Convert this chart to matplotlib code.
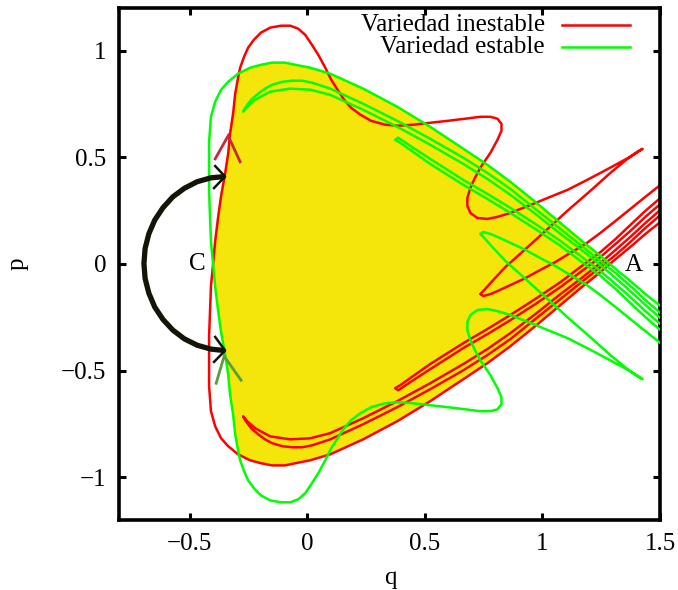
import matplotlib
matplotlib.use("Agg")
import matplotlib.pyplot as plt

# ---------------- data ----------------
x_ticks = [-0.5, 0, 0.5, 1, 1.5]
x_tick_labels = ["\u22120.5", "0", "0.5", "1", "1.5"]
y_ticks = [-1, -0.5, 0, 0.5, 1]
y_tick_labels = ["\u22121", "\u22120.5", "0", "0.5", "1"]
series_names = ["Variedad inestable", "Variedad estable"]
point_labels = ["C", "A"]
point_q = [-0.465, 1.387]
point_p = [0.0, -0.005]

# unstable manifold (red): outer band, left side, top part
red_band_q = [1.502, 1.438, 1.374, 1.311, 1.247, 1.162, 1.077, 0.970, 0.864, 0.766, 0.664, 0.523, 0.383, 0.238, 0.098, 0.013, -0.051, -0.094, -0.149, -0.196, -0.243, -0.294]
red_band_p = [0.197, 0.141, 0.080, 0.023, -0.038, -0.113, -0.192, -0.291, -0.385, -0.465, -0.540, -0.643, -0.737, -0.822, -0.892, -0.920, -0.934, -0.944, -0.944, -0.934, -0.920, -0.892]
red_side_q = [-0.336, -0.366, -0.391, -0.409, -0.417, -0.417, -0.417, -0.413, -0.409, -0.400, -0.391, -0.379, -0.366, -0.349, -0.336, -0.328, -0.315, -0.306, -0.294]
red_side_p = [-0.854, -0.817, -0.761, -0.690, -0.573, -0.455, -0.338, -0.221, -0.103, 0.000, 0.108, 0.216, 0.319, 0.423, 0.516, 0.610, 0.704, 0.798, 0.873]
red_top_q = [-0.285, -0.268, -0.251, -0.226, -0.196, -0.157, -0.111, -0.072, -0.038, -0.009, 0.017, 0.047, 0.077, 0.102, 0.132, 0.157, 0.187, 0.226, 0.272, 0.332, 0.387, 0.451, 0.523, 0.596, 0.672, 0.736, 0.779, 0.809, 0.826, 0.826, 0.809, 0.779, 0.736, 0.711, 0.694, 0.681, 0.681, 0.694, 0.723, 0.766, 0.809, 0.864, 0.906, 0.962, 1.034, 1.106, 1.174, 1.247, 1.311, 1.366, 1.404, 1.426, 1.400, 1.362, 1.289, 1.204, 1.106, 1.013, 0.919, 0.843, 0.787, 0.753, 0.736, 0.749, 0.779, 0.809, 0.864, 0.928, 0.991, 1.055, 1.119, 1.183, 1.247, 1.311, 1.374, 1.438, 1.502]
red_top_p = [0.920, 0.972, 1.014, 1.052, 1.085, 1.108, 1.117, 1.117, 1.103, 1.075, 1.033, 0.981, 0.920, 0.864, 0.812, 0.770, 0.732, 0.700, 0.671, 0.653, 0.648, 0.653, 0.662, 0.671, 0.681, 0.690, 0.690, 0.681, 0.657, 0.624, 0.582, 0.521, 0.451, 0.399, 0.357, 0.310, 0.272, 0.239, 0.216, 0.211, 0.221, 0.239, 0.258, 0.282, 0.315, 0.347, 0.385, 0.427, 0.465, 0.498, 0.526, 0.540, 0.521, 0.493, 0.427, 0.343, 0.249, 0.155, 0.061, -0.014, -0.080, -0.122, -0.141, -0.150, -0.141, -0.127, -0.099, -0.066, -0.028, 0.009, 0.052, 0.094, 0.146, 0.202, 0.258, 0.315, 0.371]
red_hook_q = [1.502, 1.438, 1.374, 1.311, 1.247, 1.162, 1.077, 0.970, 0.864, 0.766, 0.664, 0.523, 0.383, 0.238, 0.098, 0.013, -0.072, -0.157, -0.221, -0.255, -0.272, -0.264, -0.238, -0.209, -0.179, -0.149, -0.106, -0.064, -0.021, 0.021, 0.098, 0.238, 0.383, 0.523, 0.664, 0.766, 0.864, 0.970, 1.077, 1.162, 1.247, 1.311, 1.374, 1.438, 1.502]
red_hook_p = [0.254, 0.192, 0.127, 0.066, 0.005, -0.070, -0.141, -0.235, -0.324, -0.399, -0.469, -0.559, -0.643, -0.723, -0.793, -0.817, -0.822, -0.808, -0.770, -0.737, -0.714, -0.732, -0.770, -0.798, -0.822, -0.840, -0.854, -0.859, -0.859, -0.850, -0.822, -0.751, -0.671, -0.587, -0.498, -0.427, -0.352, -0.258, -0.164, -0.089, -0.014, 0.042, 0.103, 0.169, 0.230]
red_lobe_q = [1.502, 1.438, 1.374, 1.311, 1.247, 1.162, 1.077, 0.970, 0.864, 0.766, 0.664, 0.523, 0.438, 0.396, 0.374, 0.387, 0.438, 0.523, 0.664, 0.766, 0.864, 0.970, 1.077, 1.162, 1.247, 1.311, 1.374, 1.438, 1.502]
red_lobe_p = [0.310, 0.249, 0.183, 0.117, 0.056, -0.014, -0.085, -0.164, -0.239, -0.305, -0.371, -0.469, -0.535, -0.568, -0.582, -0.592, -0.554, -0.493, -0.394, -0.329, -0.263, -0.188, -0.108, -0.038, 0.033, 0.094, 0.155, 0.221, 0.282]

# stable manifold (green)
green_band_q = [1.502, 1.438, 1.374, 1.311, 1.247, 1.162, 1.077, 0.970, 0.864, 0.766, 0.664, 0.523, 0.383, 0.238, 0.098, 0.013, -0.051, -0.094, -0.149, -0.196, -0.243, -0.294]
green_band_p = [-0.197, -0.141, -0.080, -0.023, 0.038, 0.113, 0.192, 0.291, 0.385, 0.465, 0.540, 0.643, 0.737, 0.822, 0.892, 0.920, 0.934, 0.944, 0.944, 0.934, 0.920, 0.892]
green_side_q = [-0.336, -0.366, -0.391, -0.409, -0.417, -0.417, -0.417, -0.413, -0.409, -0.400, -0.391, -0.379, -0.366, -0.349, -0.336, -0.328, -0.315, -0.306, -0.294]
green_side_p = [0.854, 0.817, 0.761, 0.690, 0.573, 0.455, 0.338, 0.221, 0.103, 0.000, -0.108, -0.216, -0.319, -0.423, -0.516, -0.610, -0.704, -0.798, -0.873]
green_top_q = [-0.285, -0.268, -0.251, -0.226, -0.196, -0.157, -0.111, -0.072, -0.038, -0.009, 0.017, 0.047, 0.077, 0.102, 0.132, 0.157, 0.187, 0.226, 0.272, 0.332, 0.387, 0.451, 0.523, 0.596, 0.672, 0.736, 0.779, 0.809, 0.826, 0.826, 0.809, 0.779, 0.736, 0.711, 0.694, 0.681, 0.681, 0.694, 0.723, 0.766, 0.809, 0.864, 0.906, 0.962, 1.034, 1.106, 1.174, 1.247, 1.311, 1.366, 1.404, 1.426, 1.400, 1.362, 1.289, 1.204, 1.106, 1.013, 0.919, 0.843, 0.787, 0.753, 0.736, 0.749, 0.779, 0.809, 0.864, 0.928, 0.991, 1.055, 1.119, 1.183, 1.247, 1.311, 1.374, 1.438, 1.502]
green_top_p = [-0.920, -0.972, -1.014, -1.052, -1.085, -1.108, -1.117, -1.117, -1.103, -1.075, -1.033, -0.981, -0.920, -0.864, -0.812, -0.770, -0.732, -0.700, -0.671, -0.653, -0.648, -0.653, -0.662, -0.671, -0.681, -0.690, -0.690, -0.681, -0.657, -0.624, -0.582, -0.521, -0.451, -0.399, -0.357, -0.310, -0.272, -0.239, -0.216, -0.211, -0.221, -0.239, -0.258, -0.282, -0.315, -0.347, -0.385, -0.427, -0.465, -0.498, -0.526, -0.540, -0.521, -0.493, -0.427, -0.343, -0.249, -0.155, -0.061, 0.014, 0.080, 0.122, 0.141, 0.150, 0.141, 0.127, 0.099, 0.066, 0.028, -0.009, -0.052, -0.094, -0.146, -0.202, -0.258, -0.315, -0.371]
green_hook_q = [1.502, 1.438, 1.374, 1.311, 1.247, 1.162, 1.077, 0.970, 0.864, 0.766, 0.664, 0.523, 0.383, 0.238, 0.098, 0.013, -0.072, -0.157, -0.221, -0.255, -0.272, -0.264, -0.238, -0.209, -0.179, -0.149, -0.106, -0.064, -0.021, 0.021, 0.098, 0.238, 0.383, 0.523, 0.664, 0.766, 0.864, 0.970, 1.077, 1.162, 1.247, 1.311, 1.374, 1.438, 1.502]
green_hook_p = [-0.254, -0.192, -0.127, -0.066, -0.005, 0.070, 0.141, 0.235, 0.324, 0.399, 0.469, 0.559, 0.643, 0.723, 0.793, 0.817, 0.822, 0.808, 0.770, 0.737, 0.714, 0.732, 0.770, 0.798, 0.822, 0.840, 0.854, 0.859, 0.859, 0.850, 0.822, 0.751, 0.671, 0.587, 0.498, 0.427, 0.352, 0.258, 0.164, 0.089, 0.014, -0.042, -0.103, -0.169, -0.230]
green_lobe_q = [1.502, 1.438, 1.374, 1.311, 1.247, 1.162, 1.077, 0.970, 0.864, 0.766, 0.664, 0.523, 0.438, 0.396, 0.374, 0.387, 0.438, 0.523, 0.664, 0.766, 0.864, 0.970, 1.077, 1.162, 1.247, 1.311, 1.374, 1.438, 1.502]
green_lobe_p = [-0.310, -0.249, -0.183, -0.117, -0.056, 0.014, 0.085, 0.164, 0.239, 0.305, 0.371, 0.469, 0.535, 0.568, 0.582, 0.592, 0.554, 0.493, 0.394, 0.329, 0.263, 0.188, 0.108, 0.038, -0.033, -0.094, -0.155, -0.221, -0.282]

# trapped (yellow) region tip near A
yellow_tip_q = [1.287]
yellow_tip_p = [0.0]

# black arc and arrow heads
arc_q = [-0.349, -0.409, -0.467, -0.522, -0.571, -0.613, -0.648, -0.673, -0.689, -0.694, -0.689, -0.673, -0.648, -0.613, -0.571, -0.522, -0.467, -0.409, -0.349]
arc_p = [0.410, 0.404, 0.386, 0.355, 0.315, 0.264, 0.206, 0.142, 0.073, 0.002, -0.068, -0.137, -0.202, -0.260, -0.310, -0.351, -0.381, -0.399, -0.406]
head_top_q = [-0.391, -0.349, -0.396]
head_top_p = [0.459, 0.410, 0.356]
head_bot_q = [-0.391, -0.349, -0.396]
head_bot_p = [-0.342, -0.406, -0.459]
chev_red_q = [-0.391, -0.336, -0.285]
chev_red_p = [0.493, 0.601, 0.479]
chev_green_q = [-0.387, -0.353, -0.281]
chev_green_p = [-0.559, -0.432, -0.545]

# ---------------- drawing ----------------
plt.rcParams["font.family"] = ["Liberation Serif", "DejaVu Serif"]
FS = 18
RED = "#ff0000"
GREEN = "#00ff00"
YELLOW = "#f4e60a"
LW = 1.8

fig = plt.figure(figsize=(6.78, 5.90), dpi=100)
ax = fig.add_axes([119 / 678, 1 - 520 / 590, 541 / 678, 512 / 590])

# yellow region built from the manifold pieces
yq = (red_side_q[9:] + green_band_q[4:][::-1] + yellow_tip_q +
      red_band_q[4:] + green_side_q[9:][::-1])
yp = (red_side_p[9:] + green_band_p[4:][::-1] + yellow_tip_p +
      red_band_p[4:] + green_side_p[9:][::-1])
ax.fill(yq, yp, color=YELLOW, lw=0, zorder=1)

kw = dict(lw=LW, solid_joinstyle="round", solid_capstyle="round")
ax.plot(red_band_q + red_side_q + red_top_q, red_band_p + red_side_p + red_top_p, color=RED, zorder=2, **kw)
ax.plot(red_hook_q, red_hook_p, color=RED, zorder=2, **kw)
ax.plot(red_lobe_q, red_lobe_p, color=RED, zorder=2, **kw)
ax.plot(green_band_q + green_side_q + green_top_q, green_band_p + green_side_p + green_top_p, color=GREEN, zorder=3, **kw)
ax.plot(green_hook_q, green_hook_p, color=GREEN, zorder=3, **kw)
ax.plot(green_lobe_q, green_lobe_p, color=GREEN, zorder=3, **kw)

ax.plot(chev_red_q, chev_red_p, color="#c8283c", lw=2.0, zorder=4, solid_joinstyle="miter")
ax.plot(chev_green_q, chev_green_p, color="#5a9e3c", lw=2.0, zorder=4, solid_joinstyle="miter")

ax.plot(arc_q, arc_p, color="#141408", lw=3.8, zorder=5, solid_capstyle="butt", solid_joinstyle="round")
ax.plot(head_top_q, head_top_p, color="#141408", lw=1.8, zorder=5)
ax.plot(head_bot_q, head_bot_p, color="#141408", lw=1.8, zorder=5)

for lab, q, p in zip(point_labels, point_q, point_p):
    ax.text(q, p, lab, fontsize=FS, ha="center", va="center", zorder=6)

# legend (gnuplot style: text right-aligned, sample on the right)
leg_y = [0.967, 0.924]
for name, col, yy in zip(series_names, [RED, GREEN], leg_y):
    ax.text(0.787, yy, name, transform=ax.transAxes, fontsize=FS, ha="right", va="center", zorder=7)
    ax.plot([0.819, 0.945], [yy, yy], transform=ax.transAxes, color=col, lw=LW, zorder=7)

ax.set_xlim(-0.8, 1.5)
ax.set_ylim(-1.2, 1.2)
ax.set_xticks(x_ticks)
ax.set_xticklabels(x_tick_labels)
ax.set_yticks(y_ticks)
ax.set_yticklabels(y_tick_labels)
ax.tick_params(direction="in", length=5, width=2.2, top=True, right=True,
               labelsize=FS, pad=9)
for s in ax.spines.values():
    s.set_linewidth(2.6)

fig.text(390 / 678, 1 - 578 / 590, "q", fontsize=FS, ha="center", va="center")
fig.text(18 / 678, 1 - 264 / 590, "p", fontsize=FS, ha="center", va="center", rotation=90)

fig.savefig("out.png", dpi=100)
